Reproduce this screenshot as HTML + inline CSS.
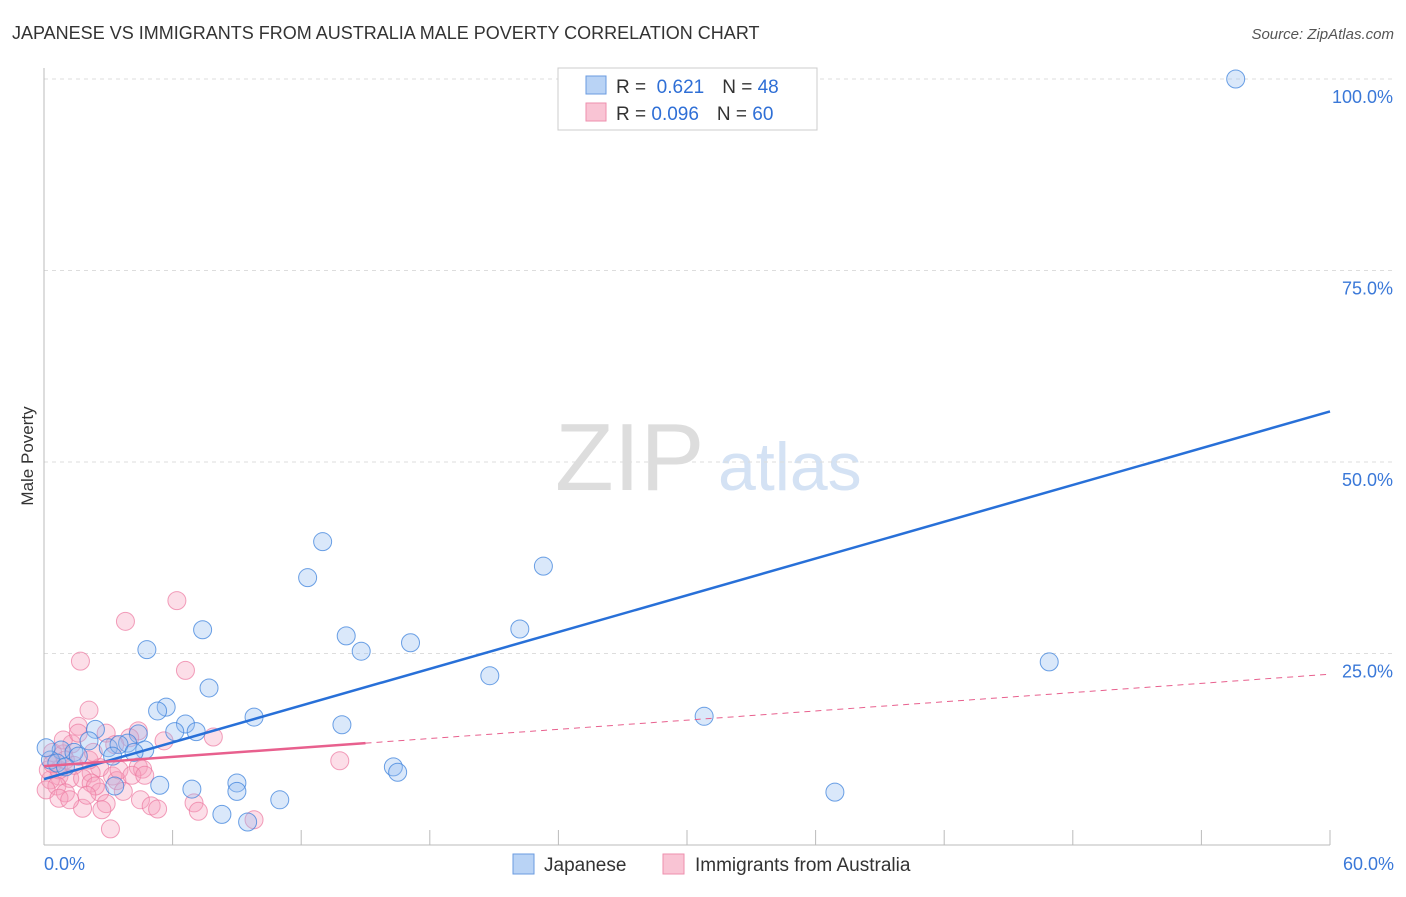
<!DOCTYPE html>
<html><head><meta charset="utf-8"><style>
body{margin:0;background:#fff;font-family:"Liberation Sans",sans-serif}
svg text{font-family:"Liberation Sans",sans-serif}
</style></head><body>
<svg id="c" width="1406" height="892">
<text x="12" y="39" font-size="18" fill="#333">JAPANESE VS IMMIGRANTS FROM AUSTRALIA MALE POVERTY CORRELATION CHART</text>
<text x="1394" y="39" font-size="15" fill="#555" font-style="italic" text-anchor="end">Source: ZipAtlas.com</text>
<text x="33" y="456" font-size="17" fill="#333" transform="rotate(-90 33 456)" text-anchor="middle">Male Poverty</text>
<text x="555" y="490" font-size="96" fill="#ddd" font-family="Liberation Serif">ZIP</text>
<text x="718" y="490" font-size="68" fill="#d4e2f4">atlas</text>
<g id="grid"></g><g id="pts"></g><g id="lines"></g>
<g>
<rect x="558" y="68" width="259" height="62" fill="#fff" stroke="#ccc"/>
<rect x="586" y="76" width="20" height="18" fill="#b9d3f5" stroke="#6a9be0"/>
<rect x="586" y="103" width="20" height="18" fill="#f9c4d4" stroke="#ee8fae"/>
<text x="616" y="93" font-size="19" fill="#333">R = <tspan fill="#2f6fd6">&#160;0.621</tspan><tspan dx="18">N = </tspan><tspan fill="#2f6fd6">48</tspan></text>
<text x="616" y="120" font-size="19" fill="#333">R = <tspan fill="#2f6fd6">0.096</tspan><tspan dx="18">N = </tspan><tspan fill="#2f6fd6">60</tspan></text>
</g>
<g>
<rect x="513" y="854" width="21" height="20" fill="#b9d3f5" stroke="#6a9be0"/>
<text x="544" y="871" font-size="19" fill="#333">Japanese</text>
<rect x="663" y="854" width="21" height="20" fill="#f9c4d4" stroke="#ee8fae"/>
<text x="695" y="871" font-size="19" fill="#333">Immigrants from Australia</text>
</g>
</svg>
<script>
const yTicks=[25,50,75,100];
const yTickLabels=["25.0%","50.0%","75.0%","100.0%"];
const xTickLabels=["0.0%","60.0%"];
const blueX=[55.6,13.0,12.3,23.3,7.4,22.2,4.8,14.1,14.8,17.1,46.9,20.8,7.7,5.7,5.3,9.8,6.6,6.1,7.1,13.9,30.8,2.4,4.4,2.1,3.9,3.0,3.5,4.7,0.8,1.4,1.6,0.3,0.6,1.0,16.3,16.5,4.2,5.4,9.0,6.9,9.0,3.3,36.9,11.0,8.3,9.5,0.1,3.2];
const blueY=[100.0,39.6,34.9,36.4,28.1,28.2,25.5,27.3,25.3,26.4,23.9,22.1,20.5,18.0,17.5,16.7,15.8,14.8,14.8,15.7,16.8,15.1,14.5,13.6,13.3,12.7,13.1,12.4,12.4,12.1,11.6,11.1,10.7,10.2,10.2,9.5,12.1,7.8,8.1,7.3,7.0,7.7,6.9,5.9,4.0,3.0,12.7,11.6];
const pinkX=[6.2,3.8,1.7,6.6,2.1,1.6,4.4,2.9,7.9,5.6,4.0,1.3,0.4,0.9,13.8,4.4,4.6,2.6,2.2,3.2,0.7,1.2,1.8,0.3,0.2,0.7,2.2,3.4,0.6,1.0,2.6,2.9,3.7,1.8,4.5,5.0,5.3,7.0,7.2,3.1,9.8,0.4,1.0,1.4,0.1,0.7,2.1,2.4,3.5,4.1,2.7,2.0,1.2,4.7,3.3,2.3,0.9,1.6];
const pinkY=[31.9,29.2,24.0,22.8,17.6,15.5,14.9,14.6,14.1,13.6,14.0,13.2,12.1,11.9,11.0,10.2,9.9,10.1,9.4,9.0,9.0,8.7,8.7,8.5,9.8,9.8,8.1,8.4,7.7,6.8,6.9,5.4,7.0,4.8,5.9,5.1,4.7,5.5,4.4,2.1,3.3,10.6,11.1,10.4,7.2,6.1,11.1,7.7,9.8,9.1,4.6,6.5,5.9,9.1,13.1,12.1,13.7,14.6];
const blueFit=[8.6,0.8];   // intercept, slope
const pinkFit=[10.3,0.2];
const pinkSolidEnd=15;
const X=v=>44+v*(1286/60), Y=v=>845-v*(766/100);
const NS="http://www.w3.org/2000/svg";
function mk(tag,attrs,parent){const e=document.createElementNS(NS,tag);for(const k in attrs)e.setAttribute(k,attrs[k]);parent.appendChild(e);return e;}
const grid=document.getElementById('grid'),pts=document.getElementById('pts'),lines=document.getElementById('lines');
yTicks.forEach((t,i)=>{
 const l=mk('line',{x1:44,x2:1394,y1:Y(t),y2:Y(t),stroke:'#ddd','stroke-dasharray':'4 4'},grid);
 
 
 const tx=mk('text',{x:1393,y:Y(t)+24,'font-size':18,fill:'#3a78d8','text-anchor':'end'},grid);
 tx.textContent=yTickLabels[i];
 
 
});
const ax=mk('line',{x1:44,x2:44,y1:68,y2:845,stroke:'#bbb'},grid);


const bx=mk('line',{x1:44,x2:1330,y1:845,y2:845,stroke:'#bbb'},grid);


for(let i=1;i<=10;i++){const t=mk('line',{x1:X(i*6),x2:X(i*6),y1:830,y2:845,stroke:'#bbb'},grid);
 
 }
[[0,'start',44],[60,'end',1394]].forEach((d,i)=>{const t=mk('text',{x:d[2],y:870,'font-size':18,fill:'#3a78d8','text-anchor':d[1]},grid);t.textContent=xTickLabels[i];
 
 });
pinkX.forEach((x,i)=>{const c=mk('circle',{cx:X(x),cy:Y(pinkY[i]),r:9,fill:'rgba(246,160,188,0.35)',stroke:'rgba(236,120,160,0.7)'},pts);
 
 });
blueX.forEach((x,i)=>{const c=mk('circle',{cx:X(x),cy:Y(blueY[i]),r:9,fill:'rgba(150,190,240,0.35)',stroke:'rgba(60,130,220,0.75)'},pts);
 
 });
const bl=mk('line',{x1:X(0),y1:Y(blueFit[0]),x2:X(60),y2:Y(blueFit[0]+blueFit[1]*60),stroke:'#2870d8','stroke-width':2.5},lines);


const pl=mk('line',{x1:X(0),y1:Y(pinkFit[0]),x2:X(pinkSolidEnd),y2:Y(pinkFit[0]+pinkFit[1]*pinkSolidEnd),stroke:'#e8608e','stroke-width':2.5},lines);


const pd=mk('line',{x1:X(pinkSolidEnd),y1:Y(pinkFit[0]+pinkFit[1]*pinkSolidEnd),x2:X(60),y2:Y(pinkFit[0]+pinkFit[1]*60),stroke:'#e8608e','stroke-width':1,'stroke-dasharray':'6 5'},lines);


</script>
</body></html>
